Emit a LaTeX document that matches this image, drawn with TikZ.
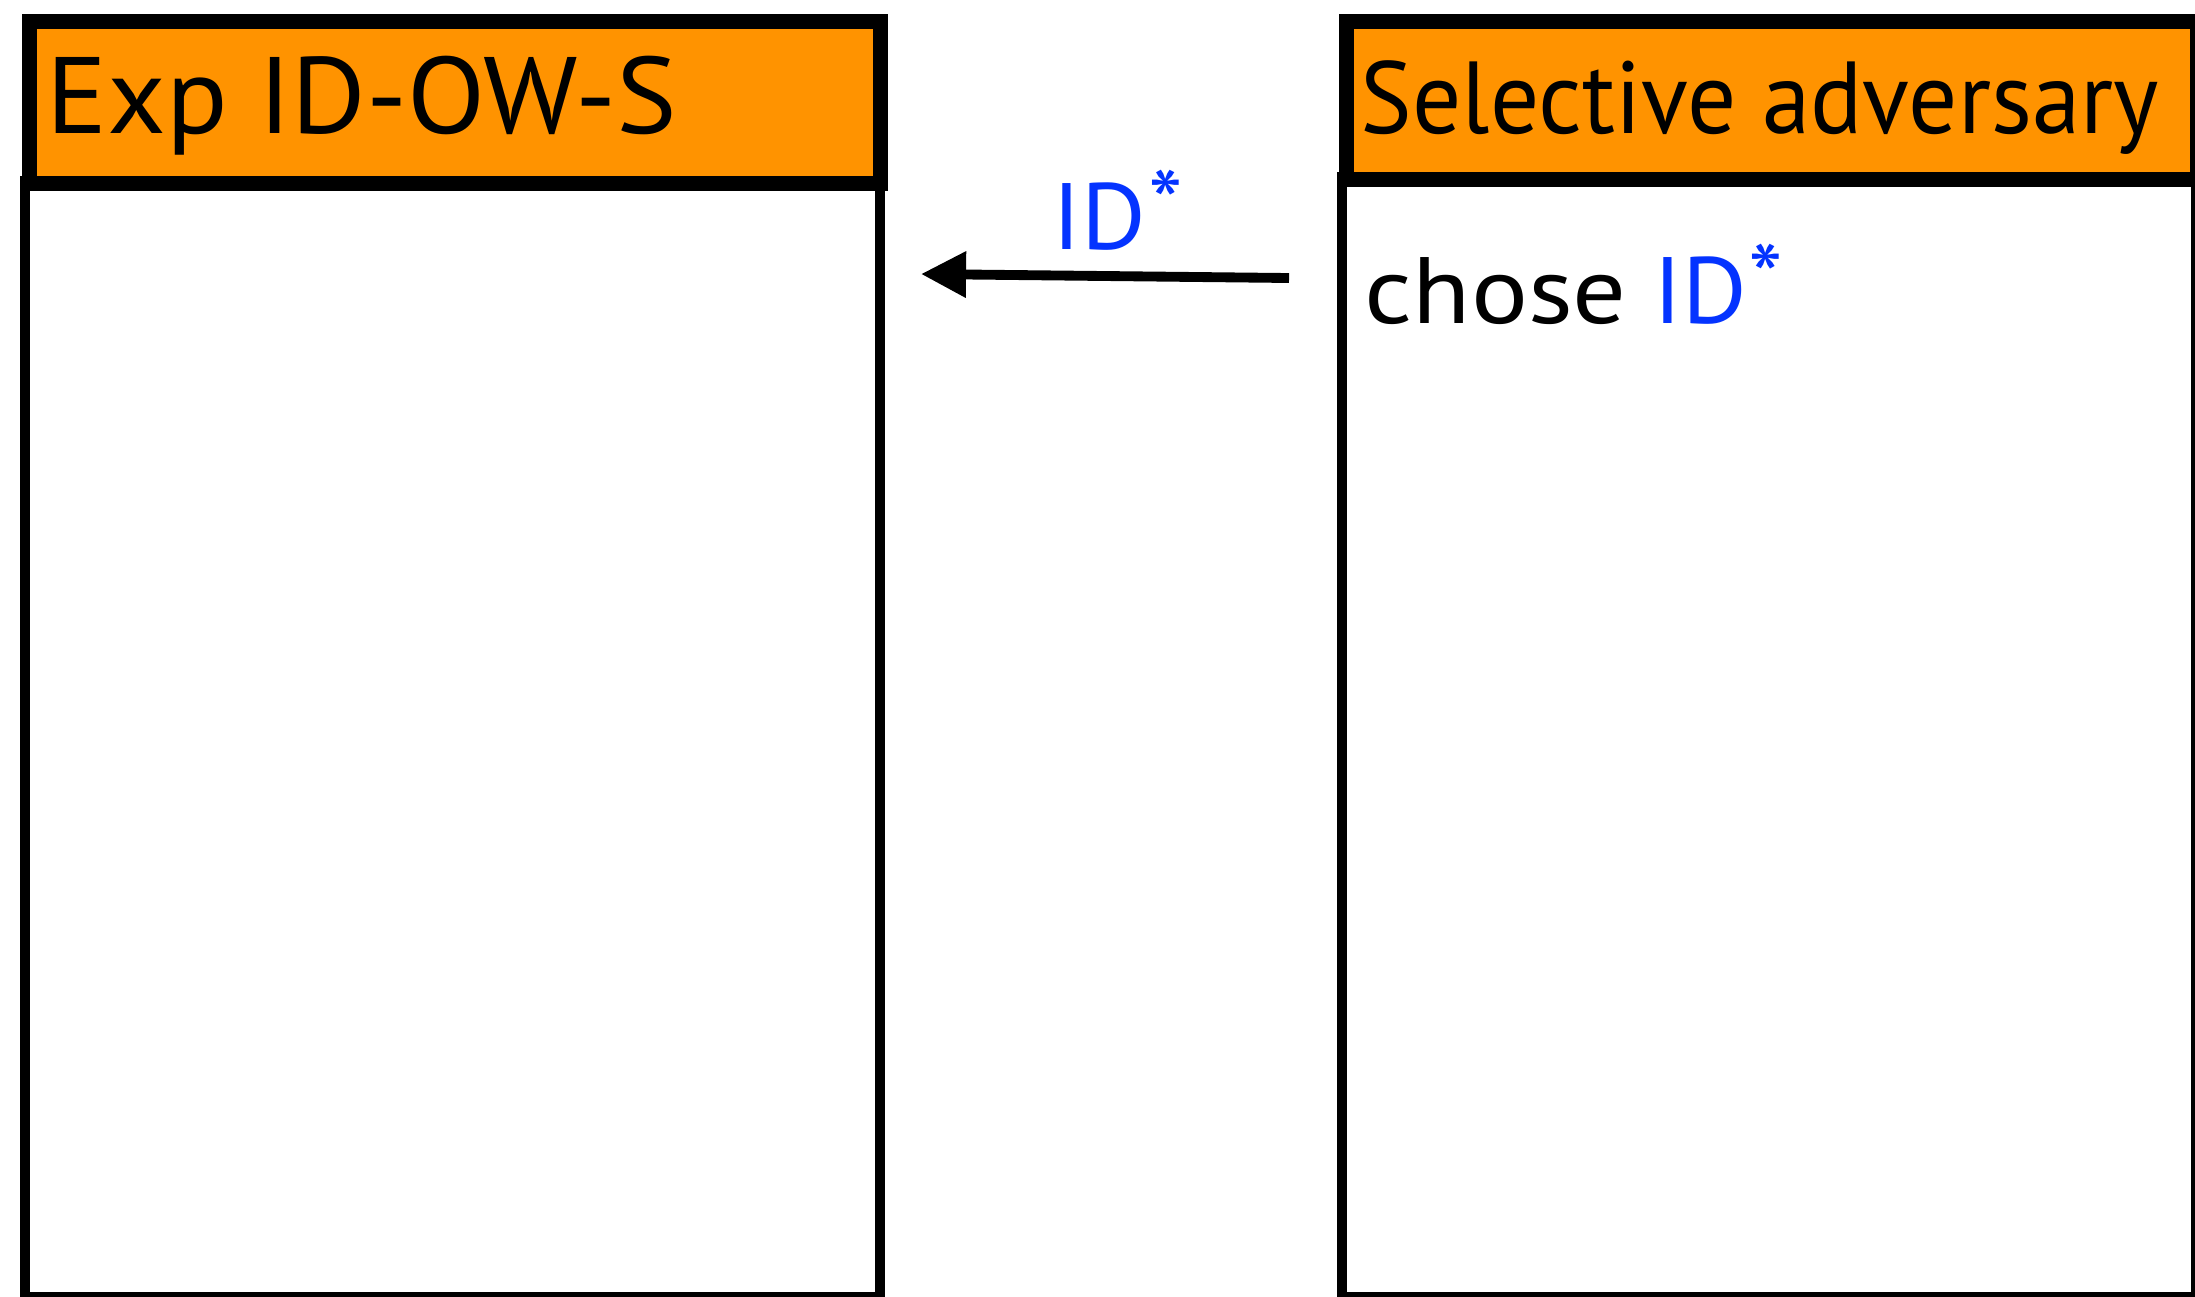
\documentclass[tikz,border=0pt]{standalone}
\usepackage{fontspec}
\setmainfont{PT Sans}[FakeStretch=1.05]
\newfontfamily\narrowfont{PT Sans}[FakeStretch=0.95]
\newfontfamily\widefont{PT Sans}[FakeStretch=1.13]
\usepackage{xcolor}
\usetikzlibrary{arrows.meta}

\definecolor{hdrorange}{RGB}{255,147,0}
\definecolor{idblue}{RGB}{4,51,255}

\tikzset{
    hdrbox/.style={draw=black, fill=hdrorange, line width=4.3pt, inner sep=0pt, anchor=north west},
    bodybox/.style={draw=black, fill=white, line width=2.85pt, inner sep=0pt, anchor=north west},
    title/.style={anchor=base west, inner sep=0pt, font=\fontsize{30.9pt}{36pt}\selectfont},
    msg/.style={line width=2.8pt, -{Triangle[length=12.8pt,width=12.5pt]}},
}
\newcommand{\idstar}{\textcolor{idblue}{ID\kern0.02em\raisebox{0.12em}{*}}}

\begin{document}
\begin{tikzpicture}[x=0.01cm, y=-0.01cm]
        \useasboundingbox (0,0) rectangle (2195,1296);
        % experiment
        \node[bodybox, minimum width=8.54cm, minimum height=11.15cm] (expbody) at (20,176) {};
        \node[hdrbox, minimum width=8.5cm, minimum height=1.62cm] (exphdr) at (22,14) {};
        \node[title] (exptitle) at (46,133) {Exp ID-OW-S};
        % adversary
        \node[bodybox, minimum width=8.535cm, minimum height=11.19cm] (advbody) at (1337,172) {};
        \node[hdrbox, minimum width=8.5cm, minimum height=1.58cm] (advhdr) at (1339,14) {};
        \node[title, font=\fontsize{29.1pt}{34pt}\selectfont\narrowfont] (advtitle) at (1360,133) {Selective adversary};
        \node[title, font=\fontsize{26.8pt}{32pt}\selectfont] (chose) at (1364,323) {{\widefont chose} \idstar};
        % message
        \coordinate (idtail) at (1289,278);
        \coordinate (idtip) at (921,274);
        \draw[msg] (idtail) -- (idtip);
        \node[title, font=\fontsize{26.8pt}{32pt}\selectfont] (idlabel) at (1052,249) {\idstar};
    \end{tikzpicture}
\end{document}
